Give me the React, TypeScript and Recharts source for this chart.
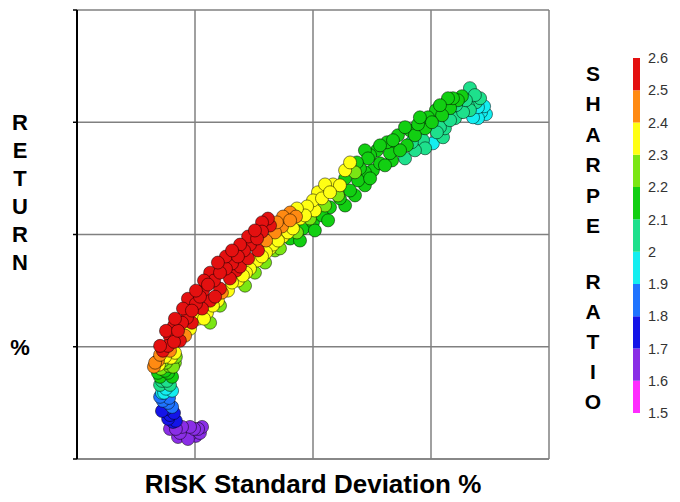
import React from "react";
import {
  ScatterChart,
  Scatter,
  XAxis,
  YAxis,
  CartesianGrid,
  Label,
  BarChart,
  Bar,
} from "recharts";

// risk (std dev %), return %, sharpe ratio for each simulated portfolio
const risk = [
  4.36, 4.62, 4.87, 5.13, 4.79, 4.45, 5.04, 4.19, 4.07, 5.21, 4.58,
  3.94, 3.77, 4.03, 3.64, 3.9, 3.6,
  3.77, 3.52, 3.81, 3.52, 3.86, 3.56, 3.9, 3.64, 3.98, 4.15,
  3.26, 3.43, 3.73, 3.64, 3.86, 4.11, 3.94, 4.28, 4.11, 4.45, 4.66, 4.87, 5.04, 4.79,
  5.21, 5.34, 5.55, 5.81, 6.06, 6.31, 6.57, 6.82, 7.08, 7.33, 7.63, 7.84, 8.18, 8.47,
  8.73, 9.03,
  4.58, 5.13, 5.51, 5.76, 6.14, 6.57, 7.03, 7.33, 7.63, 8.01, 8.31, 8.73, 9.15, 9.45,
  9.32, 9.75, 10.0, 10.21, 10.51, 10.85, 11.57, 5.85, 6.74,
  5.64, 7.54, 8.39, 9.03, 9.58, 10.0, 10.38, 10.72, 11.14, 11.57, 11.91, 12.2, 12.54,
  12.84, 11.99, 12.33, 12.71, 13.14, 13.47, 13.9, 13.6, 14.11, 14.45, 14.66, 15.08,
  15.51, 14.87, 15.21, 15.59, 15.93, 16.31, 16.65, 16.91, 17.12, 16.78, 16.23, 15.81,
  15.38, 16.57, 16.06, 11.36, 13.26, 14.19, 11.06,
  // second pass
  3.52, 3.77, 4.15, 4.49, 4.7, 5.04, 5.38, 5.64, 5.97, 6.31, 6.57, 6.91, 7.25, 7.54,
  7.84, 8.09,
  4.36, 4.87, 5.3, 5.64, 6.06, 6.48, 6.91, 7.25, 7.67, 8.01, 8.39, 8.69, 9.03, 9.28,
  4.79, 5.38, 5.97, 6.4, 6.82, 7.16, 7.84, 8.18, 8.52, 8.94, 9.66, 10.08, 10.38, 10.72,
  11.14, 11.36,
  6.06, 7.12, 7.97, 8.6, 9.32, 9.87, 10.51, 11.06, 11.78,
  9.45, 10.08, 10.64, 11.36, 11.78, 12.2, 12.42, 13.05, 13.35, 13.69, 13.98, 14.32,
  14.75, 15.04, 15.47, 15.81, 16.14, 15.72, 15.38, 14.53, 13.9, 13.39, 12.84, 12.42,
  11.86, 12.2,
  14.32, 14.75, 15.25, 15.59, 16.02, 16.36, 16.65, 16.99, 16.86, 16.48, 17.25, 17.33,
  16.99, 17.08,
  3.94, 4.28, 4.7, 4.96, 5.3, 4.19, 3.86, 4.11, 3.6, 3.86, 3.52, 4.03, 3.69, 3.94,
  3.6, 4.03, 3.43, 3.73, 4.07, 3.47, 3.77, 4.19, 3.31, 3.52, 3.94, 4.15,
];

const ret = [
  1.16, 1.03, 1.16, 1.34, 1.43, 1.43, 1.03, 1.34, 1.65, 1.16, 1.25,
  1.96, 2.23, 2.32, 2.59, 2.72, 2.95,
  3.13, 3.3, 3.48, 3.66, 3.84, 4.02, 4.15, 4.38, 4.51, 4.29,
  4.11, 4.38, 4.55, 4.82, 5.04, 5.22, 5.45, 5.71, 5.94, 6.07, 6.29, 6.61, 6.92, 6.83,
  7.23, 7.5, 7.77, 7.95, 8.3, 8.48, 8.71, 9.02, 9.29, 9.55, 9.82, 10.13, 10.4, 10.54,
  10.8, 10.98,
  5.49, 6.25, 6.52, 6.83, 7.41, 7.86, 8.17, 8.48, 8.84, 9.2, 9.55, 9.91, 10.27, 10.71,
  11.16, 11.25, 11.52, 11.88, 12.23, 12.23, 13.21, 7.23, 8.39,
  6.07, 8.3, 9.29, 9.82, 10.27, 10.54, 10.85, 11.21, 11.61, 11.96, 12.41, 12.77, 12.86,
  13.17, 12.95, 13.39, 13.75, 14.11, 13.84, 13.39, 14.42, 14.64, 14.91, 14.2, 14.06,
  14.33, 15.22, 15.54, 15.8, 16.07, 16.16, 16.52, 15.89, 15.45, 15.22, 15.45, 15.09,
  14.78, 15.71, 15.76, 12.5, 13.62, 14.11, 12.05,
  // second pass
  5.04, 5.71, 6.25, 6.7, 7.14, 7.5, 7.95, 8.3, 8.75, 9.02, 9.29, 9.55, 9.91, 10.18,
  10.54, 10.71,
  5.27, 6.07, 6.7, 7.05, 7.59, 8.04, 8.57, 8.93, 9.29, 9.73, 10.09, 10.36, 10.63, 10.8,
  5.8, 6.25, 7.05, 7.5, 7.95, 8.3, 9.02, 9.38, 9.73, 10.09, 10.85, 11.07, 11.61, 11.88,
  12.19, 12.86,
  6.83, 7.72, 8.75, 9.38, 10.09, 10.71, 11.29, 11.74, 12.77,
  9.73, 10.18, 10.63, 11.29, 11.74, 12.19, 12.5, 13.08, 13.3, 13.75, 13.97, 14.42,
  14.73, 15.0, 15.31, 15.63, 15.98, 16.07, 15.76, 15.22, 14.78, 14.2, 13.97, 13.53,
  13.21, 13.75,
  13.75, 13.84, 14.55, 14.73, 15.18, 15.45, 15.54, 15.67, 16.21, 15.98, 15.71, 15.36,
  15.18, 16.07,
  1.34, 0.98, 0.89, 1.34, 1.43, 1.7, 1.79, 2.05, 2.14, 2.5, 2.77, 3.04, 2.95, 3.3,
  3.48, 3.66, 3.84, 3.93, 4.11, 4.2, 4.29, 4.55, 4.29, 4.64, 4.82, 4.73,
];

const sharpe = [
  1.64, 1.62, 1.62, 1.63, 1.65, 1.67, 1.61, 1.68, 1.7, 1.62, 1.63,
  1.75, 1.78, 1.8, 1.83, 1.86, 1.9,
  1.95, 2.0, 2.05, 2.1, 2.15, 2.2, 2.22, 2.28, 2.3, 2.2,
  2.45, 2.42, 2.38, 2.52, 2.55, 2.56, 2.53, 2.57, 2.55, 2.56, 2.55, 2.57, 2.56, 2.54,
  2.57, 2.55, 2.57, 2.56, 2.57, 2.56, 2.55, 2.57, 2.56, 2.55, 2.57, 2.56, 2.5, 2.47,
  2.46, 2.44,
  2.4, 2.35, 2.34, 2.36, 2.45, 2.38, 2.36, 2.35, 2.34, 2.36, 2.35, 2.34, 2.36, 2.35,
  2.38, 2.36, 2.35, 2.34, 2.36, 2.33, 2.36, 2.55, 2.5,
  2.25, 2.25, 2.2, 2.18, 2.15, 2.15, 2.16, 2.14, 2.15, 2.16, 2.15, 2.14, 2.12,
  2.14, 2.18, 2.17, 2.16, 2.15, 2.12, 2.05, 2.15, 2.14, 2.15, 2.03, 1.98,
  2.02, 2.15, 2.14, 2.13, 2.14, 2.12, 2.05, 2.0, 1.95, 1.98, 2.04, 2.06,
  2.05, 2.02, 2.08, 2.18, 2.13, 2.08, 2.2,
  // second pass
  2.55, 2.56, 2.57, 2.56, 2.55, 2.57, 2.56, 2.55, 2.57, 2.56, 2.57, 2.56, 2.55, 2.57,
  2.52, 2.5,
  2.5, 2.53, 2.55, 2.53, 2.5, 2.55, 2.52, 2.55, 2.5, 2.48, 2.46, 2.44, 2.47, 2.45,
  2.36, 2.35, 2.34, 2.36, 2.33, 2.35, 2.36, 2.34, 2.36, 2.35, 2.37, 2.34, 2.35, 2.36,
  2.34, 2.35,
  2.27, 2.26, 2.24, 2.25, 2.24, 2.26, 2.25, 2.24, 2.26,
  2.18, 2.15, 2.16, 2.14, 2.15, 2.13, 2.15, 2.14, 2.12, 2.14, 2.13, 2.14,
  2.13, 2.15, 2.14, 2.13, 2.12, 2.15, 2.16, 2.16, 2.17, 2.16, 2.17, 2.16,
  2.18, 2.16,
  2.06, 2.04, 2.05, 2.03, 2.04, 2.05, 2.03, 1.99, 2.05, 2.06, 1.96, 1.94,
  1.96, 2.02,
  1.66, 1.62, 1.63, 1.64, 1.62, 1.7, 1.72, 1.76, 1.78, 1.82, 1.88, 1.93, 1.9, 2.0,
  2.04, 2.1, 2.15, 2.18, 2.22, 2.3, 2.25, 2.28, 2.45, 2.48, 2.42, 2.35,
];

const gridTicks = [0, 5, 10, 15, 20];
const sharpeTicks = [1.5, 1.6, 1.7, 1.8, 1.9, 2, 2.1, 2.2, 2.3, 2.4, 2.5, 2.6];
// one colour per 0.1 band, bottom (1.5) to top (2.6)
const bandColors = [
  "#ff2cff",
  "#8a2ee6",
  "#1414e8",
  "#1f74ff",
  "#14eef0",
  "#1ee08c",
  "#12cf12",
  "#7ae614",
  "#ffff14",
  "#ff8a12",
  "#e41010",
];

const returnLetters = ["R", "E", "T", "U", "R", "N"];
const sharpeLetters = ["S", "H", "A", "R", "P", "E"];
const ratioLetters = ["R", "A", "T", "I", "O"];

const FONT = "'Liberation Sans', Arial, Helvetica, sans-serif";

// drawn low sharpe first so the red band sits on top
const points = risk
  .map((r, i) => ({ risk: r, ret: ret[i], sharpe: sharpe[i] }))
  .sort((a, b) => a.sharpe - b.sharpe);

const colorbarRow: Record<string, number | string> = { name: "sharpe", base: sharpeTicks[0] };
bandColors.forEach((_, i) => {
  colorbarRow[`b${i}`] = sharpeTicks[i + 1] - sharpeTicks[i];
});
const colorbarData = [colorbarRow];

function colorFor(s: number) {
  const idx = Math.floor((s - sharpeTicks[0]) * 10 + 1e-6);
  return bandColors[Math.max(0, Math.min(bandColors.length - 1, idx))];
}

const PortfolioDot = (props: any) => {
  const { cx, cy, payload } = props;
  if (cx == null || cy == null) return null;
  return (
    <circle
      cx={cx}
      cy={cy}
      r={6.5}
      fill={colorFor(payload.sharpe)}
      stroke="rgba(0,0,0,0.5)"
      strokeWidth={1}
    />
  );
};

const NoTick = () => <g />;

const ReturnLabel = () => (
  <g fontFamily={FONT} fontWeight="bold" fontSize={22} fill="#000">
    {returnLetters.map((l, i) => (
      <text key={i} x={20} y={122 + i * 28} textAnchor="middle" dominantBaseline="central">
        {l}
      </text>
    ))}
    <text x={20} y={347} textAnchor="middle" dominantBaseline="central">
      %
    </text>
  </g>
);

const SharpeLabel = () => (
  <g fontFamily={FONT} fontWeight="bold" fontSize={21} fill="#000">
    {sharpeLetters.map((l, i) => (
      <text key={`s${i}`} x={33} y={73 + i * 30.5} textAnchor="middle" dominantBaseline="central">
        {l}
      </text>
    ))}
    {ratioLetters.map((l, i) => (
      <text key={`r${i}`} x={33} y={281 + i * 30} textAnchor="middle" dominantBaseline="central">
        {l}
      </text>
    ))}
  </g>
);

export default function App() {
  return (
    <div
      style={{
        position: "absolute",
        left: 0,
        top: 0,
        width: 680,
        height: 502,
        background: "#fff",
        fontFamily: FONT,
      }}
    >
      <div style={{ position: "absolute", left: 0, top: 0 }}>
        <ScatterChart
          width={680}
          height={502}
          margin={{ top: 10, right: 131, bottom: 0, left: 76 }}
        >
          <CartesianGrid stroke="#808080" strokeWidth={1.5} />
          <XAxis
            type="number"
            dataKey="risk"
            domain={[0, 20]}
            ticks={gridTicks}
            tick={<NoTick />}
            tickLine={false}
            height={43}
            axisLine={{ stroke: "#808080", strokeWidth: 1.5 }}
          >
            <Label
              value="RISK Standard Deviation %"
              position="insideBottom"
              offset={9}
              style={{ fontFamily: FONT, fontWeight: "bold", fontSize: 26, fill: "#000" }}
            />
          </XAxis>
          <YAxis
            type="number"
            dataKey="ret"
            domain={[0, 20]}
            ticks={gridTicks}
            tick={<NoTick />}
            width={1}
            tickSize={4}
            tickLine={{ stroke: "#000", strokeWidth: 1.5 }}
            axisLine={{ stroke: "#000", strokeWidth: 2 }}
          >
            <Label content={() => <ReturnLabel />} />
          </YAxis>
          <Scatter
            data={points}
            shape={<PortfolioDot />}
            isAnimationActive={false}
          />
        </ScatterChart>
      </div>

      <div style={{ position: "absolute", left: 560, top: 0 }}>
        <BarChart
          width={120}
          height={502}
          data={colorbarData}
          barCategoryGap={0}
          margin={{ top: 58, right: 0, bottom: 89, left: 73 }}
        >
          <XAxis dataKey="name" hide />
          <YAxis
            orientation="right"
            type="number"
            domain={[sharpeTicks[0], sharpeTicks[sharpeTicks.length - 1]]}
            ticks={sharpeTicks}
            allowDataOverflow
            width={40}
            axisLine={false}
            tickLine={false}
            tickSize={6}
            tickMargin={2}
            tick={{ fontSize: 14.5, fill: "#333", fontFamily: FONT }}
          >
            <Label content={() => <SharpeLabel />} />
          </YAxis>
          <Bar dataKey="base" stackId="cb" fill="none" isAnimationActive={false} />
          {bandColors.map((c, i) => (
            <Bar
              key={i}
              dataKey={`b${i}`}
              stackId="cb"
              fill={c}
              isAnimationActive={false}
            />
          ))}
        </BarChart>
      </div>
    </div>
  );
}
